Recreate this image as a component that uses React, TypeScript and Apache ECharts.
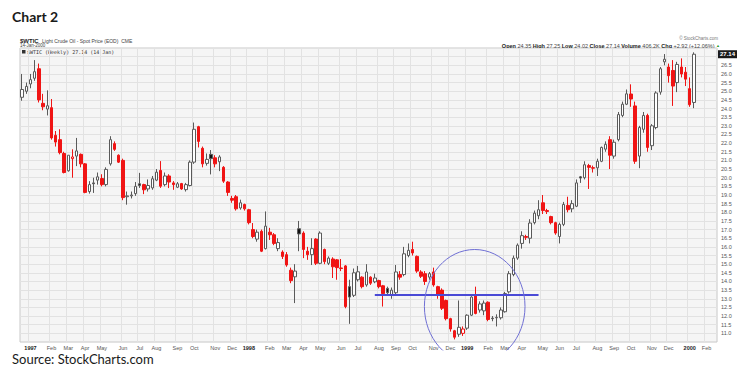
import React, { useEffect, useRef } from "react";
import * as echarts from "echarts";

// ---- data (weekly OHLC, [open, high, low, close]) ----
const START_WEEK = "1996-12-20"; // first weekly bar (Friday)
const FUTURE_WEEKS = 5; // empty weeks at the right edge of the chart

const ohlc1997: number[][] = [
  [24.65, 26.0, 24.45, 25.1], [25.0, 25.5, 24.85, 25.28], [25.42, 26.0, 25.17, 25.67], [25.75, 26.8, 25.6, 26.13],
  [26.3, 26.6, 24.35, 24.5], [24.3, 24.85, 23.9, 24.1], [23.97, 25.05, 23.6, 24.16], [24.05, 24.55, 22.2, 22.3],
  [22.45, 22.7, 21.8, 22.06], [22.2, 22.8, 21.35, 21.45], [21.4, 21.5, 20.25, 20.3], [20.4, 21.3, 20.35, 21.3],
  [21.1, 21.64, 20.0, 21.2], [21.25, 22.3, 20.67, 21.55], [21.35, 21.4, 20.6, 20.8], [20.8, 20.85, 19.1, 19.15],
  [19.2, 19.8, 19.08, 19.6], [19.7, 20.0, 19.12, 19.65], [19.86, 20.3, 19.6, 20.05], [19.95, 20.2, 19.5, 19.6],
  [19.6, 20.6, 19.5, 20.48], [20.8, 22.4, 20.7, 22.2], [21.97, 22.1, 21.55, 21.64], [21.3, 21.35, 20.85, 20.9],
  [21.0, 21.1, 18.7, 18.85], [18.9, 19.2, 18.44, 18.95], [18.95, 19.2, 18.8, 19.0], [19.08, 19.75, 18.95, 19.5],
  [19.65, 20.28, 19.41, 19.55], [19.6, 19.65, 19.05, 19.3], [19.35, 19.9, 19.2, 19.55], [19.41, 20.1, 19.3, 19.94],
  [19.86, 20.5, 19.8, 20.32], [20.42, 20.96, 19.41, 19.51], [19.6, 20.3, 19.5, 20.1], [20.1, 20.2, 19.4, 19.75],
  [19.7, 19.8, 19.3, 19.6], [19.45, 19.75, 19.4, 19.65], [19.66, 19.7, 19.3, 19.35], [19.31, 19.7, 19.2, 19.6],
  [19.55, 21.0, 19.5, 20.9], [20.9, 23.19, 20.8, 22.8], [22.95, 23.0, 21.75, 22.1], [21.7, 21.8, 20.6, 20.8],
  [20.83, 21.4, 20.7, 21.06], [21.35, 21.6, 20.19, 21.1], [21.15, 21.3, 20.6, 20.8], [20.92, 21.3, 20.38, 21.2],
  [20.6, 20.67, 19.7, 19.8], [19.75, 19.8, 18.95, 19.15], [18.8, 18.95, 18.55, 18.7], [18.9, 19.0, 18.1, 18.2],
  [18.25, 18.73, 18.15, 18.55], [18.45, 18.5, 18.1, 18.2],
];

const ohlc1998: number[][] = [
  [18.15, 18.2, 17.3, 17.4], [17.0, 17.38, 16.5, 16.6], [16.45, 17.0, 16.3, 16.85], [16.9, 17.0, 15.7, 15.75],
  [15.9, 18.05, 15.85, 17.2], [16.85, 17.1, 16.4, 16.7], [16.7, 16.8, 16.1, 16.2], [15.9, 16.5, 15.75, 16.25],
  [15.7, 15.8, 15.3, 15.45], [15.55, 15.7, 14.85, 14.95], [14.65, 14.8, 13.9, 14.05], [14.27, 15.0, 12.75, 14.6],
  [17.05, 17.5, 15.75, 16.75], [16.8, 16.9, 15.35, 15.85], [15.75, 16.0, 15.25, 15.55], [15.55, 16.5, 14.95, 15.9],
  [16.45, 16.5, 14.95, 15.05], [15.05, 16.9, 15.0, 16.8], [15.85, 15.9, 15.0, 15.15], [15.05, 15.45, 14.95, 15.35],
  [15.3, 15.4, 14.2, 14.85], [15.25, 15.3, 14.1, 14.8], [14.78, 15.3, 14.6, 14.75], [14.9, 14.95, 12.45, 12.55],
  [13.7, 14.1, 11.55, 13.1], [13.2, 14.75, 13.1, 14.5], [14.1, 14.9, 14.0, 14.56], [14.25, 14.3, 13.6, 13.7],
  [13.8, 15.0, 13.7, 14.55], [14.25, 14.3, 13.8, 13.9], [13.98, 14.45, 13.9, 14.2], [14.05, 14.1, 13.6, 13.7],
  [13.75, 13.8, 12.55, 13.3], [13.6, 13.7, 13.2, 13.35], [13.22, 13.65, 13.0, 13.5], [13.35, 14.95, 13.25, 14.55],
  [14.4, 14.6, 14.1, 14.25], [14.4, 16.0, 14.3, 15.6], [15.5, 16.2, 15.4, 15.8], [15.85, 16.3, 15.5, 15.65],
  [15.45, 15.5, 14.5, 14.6], [14.55, 14.65, 14.2, 14.3], [14.45, 14.6, 13.8, 14.0], [14.25, 14.55, 14.1, 14.45],
  [14.55, 14.8, 13.7, 13.8], [13.7, 13.75, 13.0, 13.2], [13.5, 13.6, 12.35, 12.45], [12.9, 12.95, 11.75, 11.85],
  [11.85, 11.9, 11.1, 11.25], [11.15, 11.2, 10.65, 10.78], [10.95, 12.9, 10.8, 11.35], [11.0, 11.4, 10.85, 11.25],
];

const ohlc1999: number[][] = [
  [11.3, 12.1, 11.2, 12.05], [12.05, 13.15, 12.0, 13.1], [13.2, 13.7, 12.1, 12.15], [12.35, 12.85, 12.2, 12.7],
  [12.3, 12.9, 12.05, 12.75], [12.8, 12.85, 11.7, 11.8], [11.88, 12.0, 11.7, 11.85], [11.9, 12.1, 11.4, 11.92],
  [11.9, 12.5, 11.8, 12.35], [12.25, 13.4, 12.2, 13.3], [13.4, 14.6, 13.3, 14.45], [14.4, 15.5, 14.3, 15.35],
  [15.35, 16.2, 15.25, 16.1], [16.2, 16.9, 15.9, 16.65], [16.6, 16.7, 16.4, 16.55], [16.5, 17.6, 16.2, 17.38],
  [17.4, 18.1, 17.3, 17.95], [17.8, 18.7, 17.6, 18.15], [18.55, 19.0, 17.9, 18.1], [18.1, 18.2, 17.9, 18.05],
  [17.75, 17.8, 17.3, 17.4], [17.4, 17.45, 16.7, 16.8], [16.6, 17.4, 16.2, 17.3], [17.3, 18.6, 17.2, 18.45],
  [18.4, 18.9, 18.0, 18.15], [18.2, 18.7, 18.0, 18.5], [18.35, 19.9, 18.3, 19.7], [20.05, 20.1, 19.7, 19.98],
  [20.0, 20.95, 19.9, 20.75], [20.7, 20.8, 19.35, 20.6], [20.58, 20.7, 20.3, 20.55], [20.57, 21.1, 20.1, 20.95],
  [20.95, 21.8, 20.9, 21.75], [21.65, 22.1, 21.5, 21.93], [22.2, 22.4, 20.5, 21.3], [21.25, 22.2, 21.1, 22.05],
  [22.2, 23.8, 22.1, 23.65], [23.6, 24.4, 23.5, 24.25], [24.25, 25.1, 24.2, 24.85], [24.84, 25.4, 24.1, 24.55],
  [24.15, 24.4, 20.8, 20.95], [21.25, 23.0, 20.55, 22.9], [22.8, 23.8, 22.6, 23.6], [23.6, 23.7, 21.5, 21.75],
  [21.85, 23.1, 21.6, 23.0], [22.9, 25.0, 22.8, 24.9], [24.95, 26.4, 24.8, 26.3], [26.7, 27.15, 26.5, 26.85],
  [26.4, 26.6, 25.5, 25.9], [26.2, 26.8, 24.15, 25.3], [25.5, 26.7, 24.95, 26.55], [26.4, 26.9, 25.8, 26.0],
  [26.1, 26.4, 25.3, 25.7], [25.15, 25.8, 24.1, 24.22], [24.35, 27.25, 24.02, 27.14],
];

const LAST_VOLUME = "406.2K";
const SUPPORT_LEVEL = 13.23;
const SUPPORT_FROM = "1998-07-31";
const SUPPORT_TO = "1999-04-30";
const Y_MIN = 10.5;
const Y_MAX = 27.5;
const Y_STEP = 0.5;

const MONTHS = ["Jan", "Feb", "Mar", "Apr", "May", "Jun", "Jul", "Aug", "Sep", "Oct", "Nov", "Dec"];

const RED = "#f01414";
const DARK = "#5a5a5a";

function buildWeeks(start: string, n: number): string[] {
  const [y, m, d] = start.split("-").map(Number);
  const t0 = Date.UTC(y, m - 1, d);
  const out: string[] = [];
  for (let i = 0; i < n; i++) {
    const dt = new Date(t0 + i * 7 * 86400000);
    const mm = String(dt.getUTCMonth() + 1).padStart(2, "0");
    const dd = String(dt.getUTCDate()).padStart(2, "0");
    out.push(`${dt.getUTCFullYear()}-${mm}-${dd}`);
  }
  return out;
}

const isMonthStart = (v: string) => Number(v.slice(8, 10)) <= 7;

export default function App() {
  const ref = useRef<HTMLDivElement>(null);

  useEffect(() => {
    if (!ref.current) return;
    const chart = echarts.init(ref.current, undefined, { renderer: "svg" });

    const ohlc = [...ohlc1997, ...ohlc1998, ...ohlc1999];
    const cats = buildWeeks(START_WEEK, ohlc.length + FUTURE_WEEKS);
    const items = ohlc.map((d, i) => {
      const [o, h, l, c] = d;
      const prev = i > 0 ? ohlc[i - 1][3] : o;
      const red = c < prev;
      const hollow = c > o;
      const stroke = red ? RED : DARK;
      const fill = hollow ? "#ffffff" : red ? RED : "#111111";
      return {
        value: [o, c, l, h],
        itemStyle: { color: fill, color0: fill, borderColor: stroke, borderColor0: stroke, borderWidth: 1 },
      };
    });

    const last = ohlc[ohlc.length - 1];
    const prevClose = ohlc[ohlc.length - 2][3];
    const chg = last[3] - prevClose;
    const pct = (chg / prevClose) * 100;
    const lastDate = cats[ohlc.length - 1];
    const lastDay = Number(lastDate.slice(8, 10));
    const lastMon = MONTHS[Number(lastDate.slice(5, 7)) - 1];
    const lastYear = lastDate.slice(0, 4);

    const option: any = {
      animation: false,
      backgroundColor: "#ffffff",
      textStyle: { fontFamily: "Liberation Sans, Arial, sans-serif" },
      grid: {
        left: 20,
        top: 48,
        width: 697,
        height: 294,
        show: true,
        backgroundColor: "#f5f5f5",
        borderColor: "#c9c9c9",
        borderWidth: 1,
      },
      xAxis: {
        type: "category",
        data: cats,
        boundaryGap: true,
        axisLine: { show: false },
        axisTick: { show: false },
        axisLabel: {
          interval: (_i: number, v: string) => isMonthStart(v),
          formatter: (v: string) => {
            const m = Number(v.slice(5, 7));
            return m === 1 ? `{y|${v.slice(0, 4)}}` : MONTHS[m - 1];
          },
          fontSize: 5.5,
          color: "#555",
          margin: 3,
          rich: { y: { fontSize: 5.5, fontWeight: "bold", color: "#222" } },
        },
        splitLine: {
          show: true,
          interval: (_i: number, v: string) => isMonthStart(v),
          lineStyle: { color: "#e2e2e2", width: 1 },
        },
      },
      yAxis: {
        type: "value",
        position: "right",
        min: Y_MIN,
        max: Y_MAX,
        interval: Y_STEP,
        axisLine: { show: false },
        axisTick: { show: false },
        axisLabel: {
          fontSize: 5.5,
          color: "#555",
          margin: 4,
          formatter: (v: number) => (v <= Y_MIN || v >= 27 ? "" : v.toFixed(1)),
        },
        splitLine: { show: true, lineStyle: { color: "#e2e2e2", width: 1 } },
      },
      series: [
        {
          type: "candlestick",
          data: items,
          barWidth: 3,
          silent: true,
          markLine: {
            silent: true,
            symbol: "none",
            animation: false,
            data: [
              [
                { coord: [SUPPORT_FROM, SUPPORT_LEVEL], lineStyle: { color: "#4a4ad6", width: 2, type: "solid" }, label: { show: false } },
                { coord: [SUPPORT_TO, SUPPORT_LEVEL] },
              ],
              {
                yAxis: last[3],
                lineStyle: { color: "rgba(0,0,0,0)", width: 1 },
                label: {
                  show: true,
                  position: "end",
                  formatter: last[3].toFixed(2),
                  backgroundColor: "#1a1a1a",
                  color: "#ffffff",
                  fontSize: 6,
                  fontWeight: "bold",
                  padding: [1, 2],
                  distance: 1,
                },
              },
            ],
          },
        },
      ],
      graphic: [
        {
          type: "text",
          left: 12,
          top: 9,
          style: { text: "Chart 2", font: "bold 14px Lato, 'Open Sans', sans-serif", fill: "#1a1a1a" },
        },
        {
          type: "text",
          left: 12,
          top: 352,
          style: { text: "Source: StockCharts.com", font: "13px Lato, 'Open Sans', sans-serif", fill: "#1a1a1a" },
        },
        {
          type: "text",
          left: 20,
          top: 34.5,
          style: {
            text: "{b|$WTIC} {n|Light Crude Oil - Spot Price (EOD)  CME}",
            rich: {
              b: { fontSize: 6, fontWeight: "bold", fill: "#222", fontFamily: "Liberation Sans, Arial" },
              n: { fontSize: 5, fill: "#444", fontFamily: "Liberation Sans, Arial" },
            },
          },
        },
        {
          type: "text",
          left: 20,
          top: 42.5,
          style: { text: `${lastDay}-${lastMon}-${lastYear}`, fontSize: 4.5, fill: "#444", fontFamily: "Liberation Sans, Arial" },
        },
        { type: "rect", shape: { x: 22, y: 50, width: 3.5, height: 3.5 }, style: { fill: "#333" } },
        {
          type: "text",
          left: 27,
          top: 49.5,
          style: {
            text: `$WTIC (Weekly) ${last[3].toFixed(2)} (${lastDay} ${lastMon})`,
            fontSize: 5,
            fill: "#333",
            fontFamily: "DejaVu Sans Mono, monospace",
          },
        },
        {
          type: "text",
          right: 32,
          top: 36,
          style: { text: "© StockCharts.com", fontSize: 4.5, fill: "#777", fontFamily: "Liberation Sans, Arial" },
        },
        {
          type: "text",
          right: 30,
          top: 42.5,
          style: {
            text:
              `{b|Open} ${last[0].toFixed(2)} {b|High} ${last[1].toFixed(2)} {b|Low} ${last[2].toFixed(2)} ` +
              `{b|Close} ${last[3].toFixed(2)} {b|Volume} ${LAST_VOLUME} {b|Chg} +${chg.toFixed(2)} (+${pct.toFixed(2)}%) {g|▲}`,
            fontSize: 5.5,
            fill: "#444",
            fontFamily: "Liberation Sans, Arial",
            rich: {
              b: { fontSize: 5.5, fontWeight: "bold", fill: "#222", fontFamily: "Liberation Sans, Arial" },
              g: { fontSize: 4, fill: "#2a9a2a" },
            },
          },
        },
        {
          type: "ellipse",
          z: 100,
          shape: { cx: 474.7, cy: 306.5, rx: 50.3, ry: 57 },
          style: { fill: "none", stroke: "#6f6fd4", lineWidth: 1 },
        },
        {
          type: "rect",
          z: 101,
          shape: { x: 415, y: 350.5, width: 120, height: 30 },
          style: { fill: "#ffffff" },
        },
      ],
    };

    chart.setOption(option);
    return () => chart.dispose();
  }, []);

  return (
    <div
      ref={ref}
      style={{ position: "fixed", left: 0, top: 0, width: 750, height: 380, background: "#fff" }}
    />
  );
}
